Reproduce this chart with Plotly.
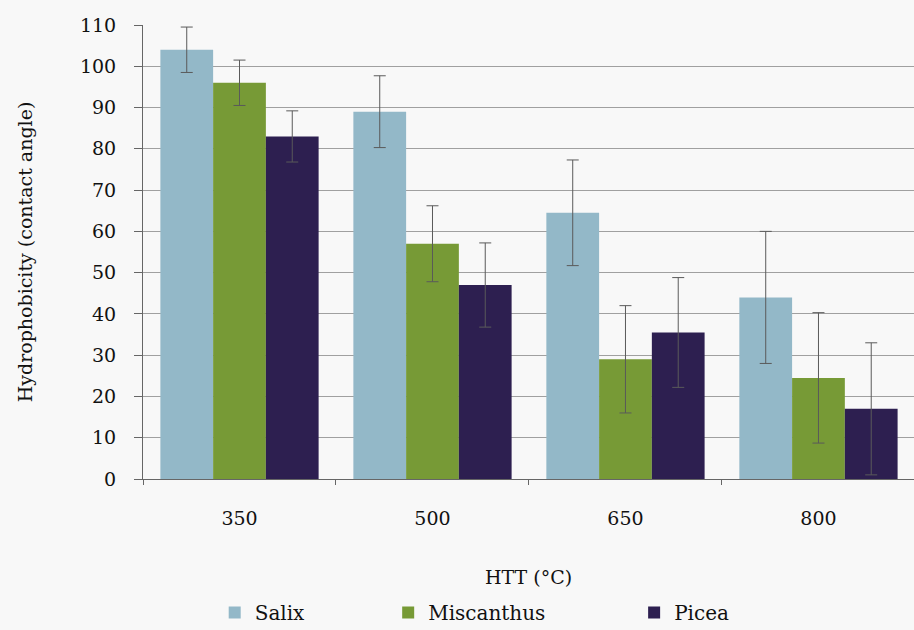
import plotly.graph_objects as go

# Heat treatment temperatures (°C)
htt = ["350", "500", "650", "800"]

# Mean contact angle per feedstock
salix = [104, 89, 64.5, 44]
miscanthus = [96, 57, 29, 24.5]
picea = [83, 47, 35.5, 17]

# Error bar half-widths
salix_err = [5.5, 8.7, 12.8, 16]
miscanthus_err = [5.5, 9.2, 13, 15.8]
picea_err = [6.2, 10.2, 13.3, 16]

series = [
    ("Salix", salix, salix_err, "#93b8c8", "legend"),
    ("Miscanthus", miscanthus, miscanthus_err, "#779a36", "legend2"),
    ("Picea", picea, picea_err, "#2d1f50", "legend3"),
]

FONT = "DejaVu Serif"
TXT = "#111111"

fig = go.Figure()
for name, vals, errs, color, leg in series:
    fig.add_trace(go.Bar(
        x=htt, y=vals, name=name, legend=leg, showlegend=True,
        marker=dict(color=color, line=dict(width=0)),
        error_y=dict(type="data", array=errs, visible=True,
                     color="#5a5a5a", thickness=1, width=6),
    ))

legend_common = dict(orientation="h", yanchor="middle", xanchor="left",
                     bgcolor="rgba(0,0,0,0)", visible=True,
                     font=dict(family=FONT, size=20, color=TXT))

fig.update_layout(
    width=914, height=630,
    margin=dict(l=143, r=0, t=25, b=151, autoexpand=False),
    paper_bgcolor="#f8f8f8",
    plot_bgcolor="#f8f8f8",
    showlegend=True,
    barmode="group",
    bargap=0.18,
    bargroupgap=0,
    font=dict(family=FONT, color=TXT),
    legend=dict(x=0.093, y=-0.294, **legend_common),
    legend2=dict(x=0.318, y=-0.294, **legend_common),
    legend3=dict(x=0.637, y=-0.294, **legend_common),
    xaxis=dict(
        range=[-0.5, 3.495],
        tickson="boundaries",
        ticks="outside", ticklen=5, tickcolor="#666",
        showline=True, linecolor="#666", linewidth=1,
        showgrid=False,
        tickfont=dict(family=FONT, size=19, color=TXT),
        ticklabelstandoff=22,
        title=dict(text="HTT (°C)", font=dict(family=FONT, size=19, color=TXT),
                   standoff=42),
    ),
    yaxis=dict(
        range=[0, 110],
        tickmode="array",
        tickvals=list(range(0, 111, 10)),
        ticks="outside", ticklen=8, tickcolor="#666",
        showline=True, linecolor="#666", linewidth=1,
        showgrid=True, gridcolor="#a0a0a0", gridwidth=1,
        zeroline=False,
        tickfont=dict(family=FONT, size=19, color=TXT),
        ticklabelstandoff=14,
        title=dict(text="Hydrophobicity (contact angle)",
                   font=dict(family=FONT, size=19, color=TXT),
                   standoff=42),
    ),
)

fig.write_html("out.html")
